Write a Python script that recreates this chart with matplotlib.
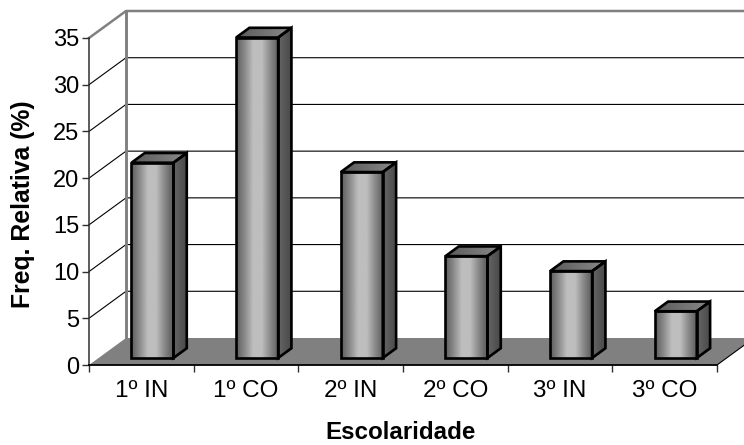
import matplotlib
matplotlib.use("Agg")
import matplotlib.pyplot as plt
import numpy as np
from matplotlib.colors import LinearSegmentedColormap
from matplotlib.patches import Polygon

plt.rcParams["font.family"] = ["Liberation Sans", "DejaVu Sans"]

categories = ["1º IN", "1º CO", "2º IN", "2º CO", "3º IN", "3º CO"]
freq = [20.9, 34.3, 19.9, 10.9, 9.3, 5.0]
yticks = [0, 5, 10, 15, 20, 25, 30, 35]

W, H = 744, 445
fig = plt.figure(figsize=(W / 100, H / 100), dpi=100)
# eixo frontal em pixels: x 89-717, y 38-365
ax = fig.add_axes([89 / W, 1 - 365 / H, (717 - 89) / W, (365 - 38) / H])
ax.set_xlim(0, 6)
ax.set_ylim(0, 35)
ax.patch.set_visible(False)

# profundidade do 3D em unidades dos dados
px_x = 6 / (717 - 89)
px_y = 35 / (365 - 38)
DX = 37 * px_x
DY = 27 * px_y
BAR_W = 42 * px_x
F0, F1 = 0.26, 0.62  # frente e fundo da barra, como fracao da profundidade

face_cmap = LinearSegmentedColormap.from_list(
    "face", ["#5c5c5c", "#8a8a8a", "#bebebe", "#bebebe", "#8a8a8a", "#5c5c5c"])
top_cmap = LinearSegmentedColormap.from_list("top", ["#5a5a5a", "#8a8a8a"])
side_cmap = LinearSegmentedColormap.from_list("side", ["#666666", "#484848"])


def gradient_poly(pts, extent, cmap, z):
    grad = np.linspace(0, 1, 128).reshape(1, -1)
    im = ax.imshow(grad, cmap=cmap, extent=extent, aspect="auto", zorder=z)
    poly = Polygon(pts, closed=True, transform=ax.transData, fc="none", ec="none")
    ax.add_patch(poly)
    im.set_clip_path(poly)
    im.set_clip_box(fig.bbox)  # o topo passa do limite do eixo
    edge = Polygon(pts, closed=True, fc="none", ec="black", lw=1.9, zorder=z + 0.1,
                   clip_on=False, joinstyle="miter")
    ax.add_patch(edge)


# parede do fundo e chao
ax.add_patch(Polygon([(0, 0), (DX, DY), (6 + DX, DY), (6, 0)], closed=True, fc="#808080",
                     ec="none", zorder=1, clip_on=False))
for v in yticks[1:-1]:
    ax.plot([0, DX, 6 + DX], [v, v + DY, v + DY], color="black", lw=0.8, zorder=1,
            clip_on=False)
ax.plot([0, DX, 6 + DX], [35, 35 + DY, 35 + DY], color="#808080", lw=1.8, zorder=1.2,
        clip_on=False)
ax.plot([DX, DX], [DY, 35 + DY], color="#808080", lw=2.1, zorder=1.2, clip_on=False)
ax.plot([6, 6 + DX], [0, DY], color="black", lw=0.8, zorder=1.2, clip_on=False)

# barras
for i, v in enumerate(freq):
    x0 = i + 0.5 - BAR_W / 2 + F0 * DX + 1.5 * px_x
    x1 = x0 + BAR_W
    b = F0 * DY
    t = b + v
    ddx = (F1 - F0) * DX
    ddy = (F1 - F0) * DY
    z = 3 + i * 0.01
    gradient_poly([(x1, b), (x1 + ddx, b + ddy), (x1 + ddx, t + ddy), (x1, t)],
                  (x1, x1 + ddx, b, t + ddy), side_cmap, z)
    gradient_poly([(x0, t), (x1, t), (x1 + ddx, t + ddy), (x0 + ddx, t + ddy)],
                  (x0, x1 + ddx, t, t + ddy), top_cmap, z)
    gradient_poly([(x0, b), (x1, b), (x1, t), (x0, t)],
                  (x0, x1, b, t), face_cmap, z)

ax.set_xlim(0, 6)
ax.set_ylim(0, 35)

for s in ["top", "right"]:
    ax.spines[s].set_visible(False)
ax.spines["left"].set_color("#303030")
ax.spines["bottom"].set_color("black")
ax.spines["left"].set_linewidth(1.1)
ax.spines["bottom"].set_linewidth(1.3)
ax.spines["left"].set_zorder(5)
ax.spines["bottom"].set_zorder(5)

ax.set_yticks(yticks)
ax.set_xticks(range(7))
ax.set_xticklabels([])
ax.tick_params(axis="both", length=5, width=1, color="#303030", labelsize=17, pad=2)
ax.set_xticks(np.arange(6) + 0.5, minor=True)
ax.set_xticklabels(categories, minor=True, fontsize=17.5)
ax.tick_params(axis="x", which="minor", length=0, pad=11)

fig.text(23 / W, 1 - 204 / H, "Freq. Relativa (%)", rotation=90, fontsize=17.8,
         fontweight="bold", ha="center", va="center")
fig.text(401 / W, 1 - 439 / H, "Escolaridade", fontsize=17.4, fontweight="bold",
         ha="center", va="baseline")

fig.savefig("out.png", dpi=100)
